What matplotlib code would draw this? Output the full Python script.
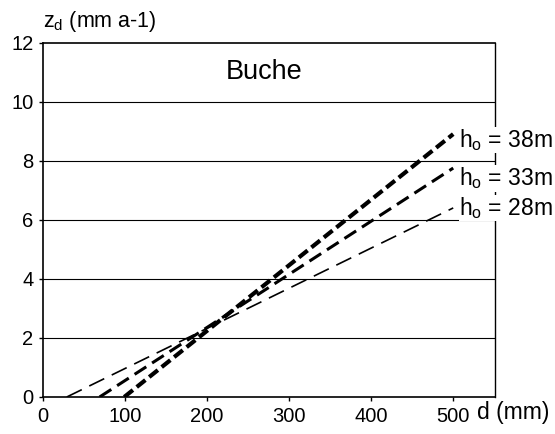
import matplotlib
matplotlib.use("Agg")
import matplotlib.pyplot as plt

plt.rcParams['font.family'] = ['Liberation Sans', 'DejaVu Sans']
plt.rcParams['lines.scale_dashes'] = False
plt.rcParams['mathtext.fontset'] = 'custom'
plt.rcParams['mathtext.rm'] = 'Liberation Sans'

# Data: each line defined by start (z=0) and end (d=500) points
d_28 = [29, 500]
z_28 = [0, 6.4]
d_33 = [69, 500]
z_33 = [0, 7.75]
d_38 = [99, 500]
z_38 = [0, 8.9]
xticks = [0, 100, 200, 300, 400, 500]
yticks = [0, 2, 4, 6, 8, 10, 12]
labels = ["38m", "33m", "28m"]

fig = plt.figure(figsize=(5.55, 4.34), dpi=100)
ax = fig.add_axes([0.0775, 0.0853, 0.8145, 0.8167])
ax.set_xlim(0, 551)
ax.set_ylim(0, 12)

for y in yticks[1:-1]:
    ax.axhline(y, color='black', lw=0.8, zorder=1)

ax.plot(d_28, z_28, color='black', lw=1.2, dashes=(12, 6), zorder=3)
ax.plot(d_33, z_33, color='black', lw=2.2, dashes=(10, 5), zorder=3)
ax.plot(d_38, z_38, color='black', lw=3.0, dashes=(8, 3.5), zorder=3)

ax.set_xticks(xticks)
ax.set_yticks(yticks)
ax.tick_params(axis='both', direction='out', length=3, width=1, labelsize=14.5, pad=4)
for s in ax.spines.values():
    s.set_linewidth(1.2)
ax.spines['right'].set_linewidth(1.0)

ax.text(270, 11.0, "Buche", fontsize=19.5, ha='center', va='center')

lab_y = [8.7, 7.4, 6.4]
for lbl, yy in zip(labels, lab_y):
    ax.text(507, yy, r"h$_\mathregular{o}$ = " + lbl, fontsize=16.5, ha='left', va='center',
            bbox=dict(facecolor='white', edgecolor='none', pad=0.3), zorder=5, clip_on=False)

fig.text(0.0775, 0.950, r"z$_\mathregular{d}$ (mm a-1)", fontsize=15.5, ha='left', va='center')
fig.text(0.860, 0.050, "d (mm)", fontsize=16.5, ha='left', va='center')

fig.savefig("out.png", dpi=100)
